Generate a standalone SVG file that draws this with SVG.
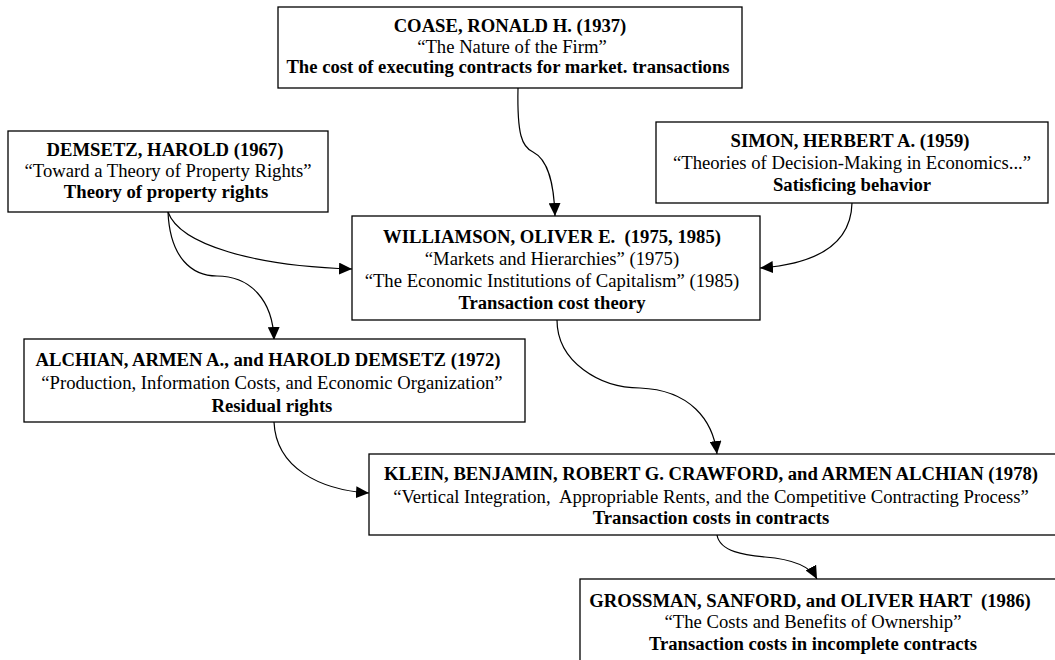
<svg xmlns="http://www.w3.org/2000/svg" width="1055" height="660" viewBox="0 0 1055 660">
  <style>
    .box { fill: #ffffff; stroke: #000000; stroke-width: 1.3; }
    text { font-family: "Liberation Serif", "Times New Roman", serif; font-size: 18.67px; fill: #000000; text-anchor: middle; white-space: pre; }
    .b { font-weight: bold; }
    .edge { fill: none; stroke: #000000; stroke-width: 1.2; marker-end: url(#arrow); }
  </style>
  <defs>
    <marker id="arrow" viewBox="0 0 13 12" refX="13" refY="6" markerWidth="13" markerHeight="12" markerUnits="userSpaceOnUse" orient="auto">
      <path d="M0,0 L13,6 L0,12 Z" fill="#000000"/>
    </marker>
  </defs>

  <!-- citation links between the papers -->
  <g id="connectors">
    <path class="edge" d="M518,88 C517,135 522,147 533,152 C549,160 554,185 555,216"/>
    <path class="edge" d="M168,212 C180,245 255,266 352,269"/>
    <path class="edge" d="M168,212 C170,258 192,276 217,276 C250,276 273,300 274,340"/>
    <path class="edge" d="M852,203 C851,245 815,264 760,268"/>
    <path class="edge" d="M557,320 C557,362 600,388 640,388 C690,390 713,420 717,454"/>
    <path class="edge" d="M274,422 C276,468 320,490 369,493"/>
    <path class="edge" d="M717,535 C720,552 745,555 765,557 C790,559 810,566 817,579"/>
  </g>

  <g id="coase">
    <rect class="box" x="278" y="7" width="464" height="81"/>
    <text class="b" x="510" y="32">COASE, RONALD H. (1937)</text>
    <text x="512" y="53">“The Nature of the Firm”</text>
    <text class="b" x="508" y="73">The cost of executing contracts for market. transactions</text>
  </g>

  <g id="demsetz">
    <rect class="box" x="8" y="131" width="320" height="81"/>
    <text class="b" x="165" y="156">DEMSETZ, HAROLD (1967)</text>
    <text x="168" y="177">“Toward a Theory of Property Rights”</text>
    <text class="b" x="166" y="198">Theory of property rights</text>
  </g>

  <g id="simon">
    <rect class="box" x="656" y="122" width="392" height="81"/>
    <text class="b" x="850" y="147">SIMON, HERBERT A. (1959)</text>
    <text x="852" y="169">“Theories of Decision-Making in Economics...”</text>
    <text class="b" x="852" y="191">Satisficing behavior</text>
  </g>

  <g id="williamson">
    <rect class="box" x="352" y="216" width="408" height="104"/>
    <text class="b" x="552" y="243">WILLIAMSON, OLIVER E.  (1975, 1985)</text>
    <text x="552" y="265">“Markets and Hierarchies” (1975)</text>
    <text x="552" y="287">“The Economic Institutions of Capitalism” (1985)</text>
    <text class="b" x="552" y="309">Transaction cost theory</text>
  </g>

  <g id="alchian">
    <rect class="box" x="24" y="339" width="501" height="83"/>
    <text class="b" x="268" y="366">ALCHIAN, ARMEN A., and HAROLD DEMSETZ (1972)</text>
    <text x="272" y="389">“Production, Information Costs, and Economic Organization”</text>
    <text class="b" x="272" y="412">Residual rights</text>
  </g>

  <g id="klein">
    <rect class="box" x="369" y="454" width="692" height="81"/>
    <text class="b" x="711" y="480">KLEIN, BENJAMIN, ROBERT G. CRAWFORD, and ARMEN ALCHIAN (1978)</text>
    <text x="711" y="503">“Vertical Integration,  Appropriable Rents, and the Competitive Contracting Process”</text>
    <text class="b" x="711" y="524">Transaction costs in contracts</text>
  </g>

  <g id="grossman">
    <rect class="box" x="580" y="579" width="480" height="90"/>
    <text class="b" x="810" y="607">GROSSMAN, SANFORD, and OLIVER HART  (1986)</text>
    <text x="813" y="628">“The Costs and Benefits of Ownership”</text>
    <text class="b" x="813" y="650">Transaction costs in incomplete contracts</text>
  </g>
</svg>
